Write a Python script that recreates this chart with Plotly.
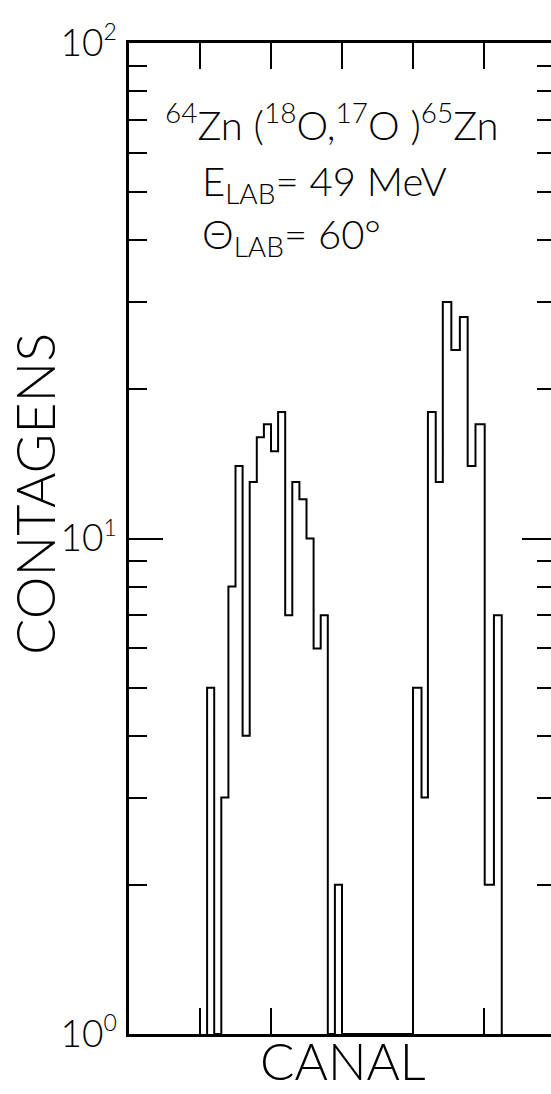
import plotly.graph_objects as go

# ---- data ----
# bin boundaries (channel units, ticks every 10 channels)
canal_bordas = [11, 12, 13, 14, 15, 16, 17, 18, 19, 20, 21, 22, 23, 24, 25, 26, 27, 28, 29, 30,
                40.0, 41.2, 42.1, 43.2, 44.2, 45.4, 46.6, 47.7, 48.8, 50.1, 51.4, 52.5]
# counts per bin
contagens = [5, 0, 3, 8, 14, 4, 13, 16, 17, 15, 18, 7, 13, 12, 10, 6, 7, 0, 2,
             0,
             5, 3, 18, 13, 30, 24, 28, 14, 17, 2, 7]
y_tickvals = [1, 10, 100]
y_exponents = ["0", "1", "2"]
y_minor = [2, 3, 4, 5, 6, 7, 8, 9, 20, 30, 40, 50, 60, 70, 80, 90]
x_tickvals = [10, 20, 30, 40, 50]

# ---- layout geometry ----
W, H = 551, 1094
ML, MR, MT, MB = 129, 0, 43, 60
PW, PH = W - ML - MR, H - MT - MB
PX_PER_CH = 7.1
XMAX = PW / PX_PER_CH

FONT = "Lato"
FW = 300


def px(xp):
    return (xp - ML) / PW


def py(yp):
    return (H - MB - yp) / PH


y_ticktext = ["10<sup><span style='font-size:23px'>%s</span></sup>" % e for e in y_exponents]

# step outline of histogram (zero counts drawn on the baseline)
xs = [canal_bordas[0]] + canal_bordas
ys = [1] + [max(c, 1) for c in contagens] + [1]

fig = go.Figure()
fig.add_trace(go.Scatter(x=xs, y=ys, mode="lines", line=dict(color="black", width=2, shape="hv"),
                         showlegend=False, hoverinfo="skip"))
# invisible helper trace so the right-hand tick axis is drawn
fig.add_trace(go.Scatter(x=[xs[0]], y=[ys[1]], yaxis="y2", mode="markers",
                         marker=dict(opacity=0), showlegend=False, hoverinfo="skip"))

fig.update_layout(
    width=W, height=H,
    margin=dict(l=ML, r=MR, t=MT, b=MB, pad=0),
    paper_bgcolor="white", plot_bgcolor="white",
    font=dict(family=FONT, color="black", weight=FW),
    xaxis=dict(range=[0, XMAX], showgrid=False, zeroline=False,
               showline=True, linecolor="black", linewidth=2.5, mirror="ticks",
               ticks="inside", tickvals=x_tickvals, ticklen=26, tickwidth=2, tickcolor="black",
               showticklabels=False),
    yaxis=dict(type="log", range=[0, 2], showgrid=False, zeroline=False,
               showline=True, linecolor="black", linewidth=2.5, mirror=False,
               ticks="inside", tickvals=y_tickvals, ticktext=y_ticktext,
               ticklen=34, tickwidth=2, tickcolor="black", ticklabelstandoff=2,
               tickfont=dict(family=FONT, size=37, color="black", weight=FW),
               minor=dict(ticks="inside", tickvals=y_minor, ticklen=18, tickwidth=2, tickcolor="black")),
    yaxis2=dict(type="log", range=[0, 2], overlaying="y", side="right", anchor="x",
                showgrid=False, zeroline=False, showline=False,
                ticks="inside", tickvals=y_tickvals, ticklen=29, tickwidth=2, tickcolor="black",
                showticklabels=False,
                minor=dict(ticks="inside", tickvals=y_minor, ticklen=14, tickwidth=2, tickcolor="black")),
)

ann_font = dict(family=FONT, size=40, color="black", weight=FW)
fig.add_annotation(xref="paper", yref="paper", x=px(163), y=py(122), xanchor="left", yanchor="middle",
                   text="<sup>64</sup>Zn (<sup>18</sup>O,<sup>17</sup>O )<sup>65</sup>Zn",
                   showarrow=False, font=ann_font)
fig.add_annotation(xref="paper", yref="paper", x=px(200), y=py(183), xanchor="left", yanchor="middle",
                   text="E<sub>LAB</sub>= 49 MeV", showarrow=False, font=ann_font)
fig.add_annotation(xref="paper", yref="paper", x=px(200), y=py(236), xanchor="left", yanchor="middle",
                   text="Θ<sub>LAB</sub>= 60°", showarrow=False, font=ann_font)

# axis titles
fig.add_annotation(xref="paper", yref="paper", x=px(343), y=py(1093), xanchor="center", yanchor="bottom",
                   text="CANAL", showarrow=False, font=dict(family=FONT, size=51, color="black", weight=FW))
fig.add_annotation(xref="paper", yref="paper", x=px(34), y=py(494), xanchor="center", yanchor="middle",
                   text="CONTAGENS", textangle=-90, showarrow=False,
                   font=dict(family=FONT, size=54, color="black", weight=FW))

fig.write_html("out.html")
